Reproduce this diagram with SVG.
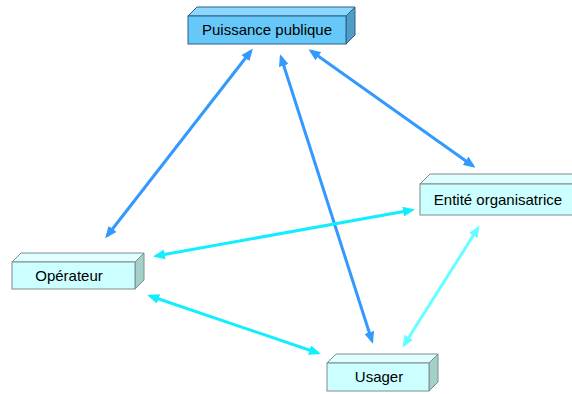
<svg xmlns="http://www.w3.org/2000/svg" width="572" height="394" viewBox="0 0 572 394">
<style>
text{font-family:"Liberation Sans",Arial,sans-serif;font-size:15px;fill:#000;text-anchor:middle}
.f1{fill:#66C8F8;stroke:#2E5E80;stroke-width:1}
.t1{fill:#8AD8FF;stroke:#2E5E80;stroke-width:1}
.s1{fill:#4E9CC8;stroke:#2E5E80;stroke-width:1}
.f2{fill:#CCFFFF;stroke:#7F8C8C;stroke-width:1}
.t2{fill:#E0FFFF;stroke:#7F8C8C;stroke-width:1}
.s2{fill:#A4D0CC;stroke:#7F8C8C;stroke-width:1}
.c{fill:none;stroke-width:3}
.b{stroke:#3399FF}
.y{stroke:#11EEFF}
.l{stroke:#66FFFF}
</style>
<defs>
<marker id="ab" viewBox="0 0 12 10" refX="9" refY="5" markerWidth="12" markerHeight="10" markerUnits="userSpaceOnUse" orient="auto-start-reverse"><path d="M0,0 L12,5 L0,10 Z" fill="#3399FF"/></marker>
<marker id="ay" viewBox="0 0 12 10" refX="9" refY="5" markerWidth="12" markerHeight="10" markerUnits="userSpaceOnUse" orient="auto-start-reverse"><path d="M0,0 L12,5 L0,10 Z" fill="#11EEFF"/></marker>
<marker id="al" viewBox="0 0 12 10" refX="9" refY="5" markerWidth="12" markerHeight="10" markerUnits="userSpaceOnUse" orient="auto-start-reverse"><path d="M0,0 L12,5 L0,10 Z" fill="#66FFFF"/></marker>
</defs>
<g id="connectors">
<path class="c b" d="M251,51 L107,236" marker-start="url(#ab)" marker-end="url(#ab)"/>
<path class="c b" d="M281,57 L372,341" marker-start="url(#ab)" marker-end="url(#ab)"/>
<path class="c b" d="M311,51 L473,166" marker-start="url(#ab)" marker-end="url(#ab)"/>
<path class="c y" d="M156,256 L412,210" marker-start="url(#ay)" marker-end="url(#ay)"/>
<path class="c y" d="M150,296 L318,353" marker-start="url(#ay)" marker-end="url(#ay)"/>
<path class="c l" d="M478,228 L404,345" marker-start="url(#al)" marker-end="url(#al)"/>
</g>
<g id="puissance">
<polygon class="t1" points="188,16 197,7 355,7 346,16"/>
<polygon class="s1" points="346,16 355,7 355,35 346,44"/>
<rect class="f1" x="188" y="16" width="158" height="28"/>
<text x="267" y="35">Puissance publique</text>
</g>
<g id="entite">
<polygon class="t2" points="420,184 430,174 590,174 580,184"/>
<rect class="f2" x="420" y="184" width="160" height="31"/>
<text x="498" y="205">Entité organisatrice</text>
</g>
<g id="operateur">
<polygon class="t2" points="12,262 21,253 144,253 135,262"/>
<polygon class="s2" points="135,262 144,253 144,280 135,289"/>
<rect class="f2" x="12" y="262" width="123" height="27"/>
<text x="69" y="281">Opérateur</text>
</g>
<g id="usager">
<polygon class="t2" points="327,363 336,354 438,354 429,363"/>
<polygon class="s2" points="429,363 438,354 438,382 429,391"/>
<rect class="f2" x="327" y="363" width="102" height="28"/>
<text x="379" y="382">Usager</text>
</g>
</svg>
